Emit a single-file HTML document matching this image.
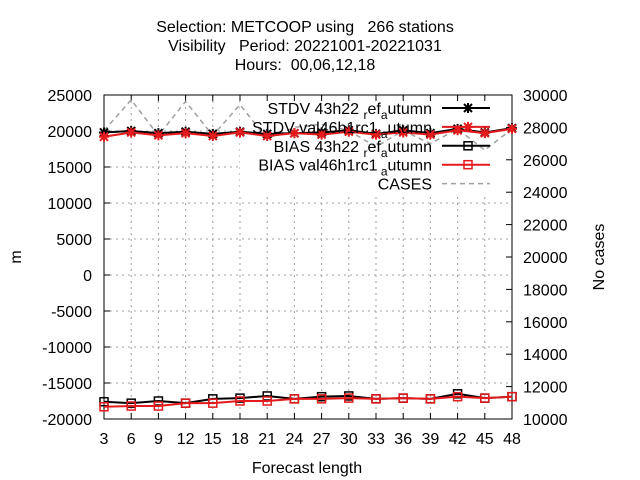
<!DOCTYPE html>
<html><head><meta charset="utf-8"><style>
body{margin:0;background:#fff}
svg{display:block;font-family:"Liberation Sans",sans-serif;font-size:16px}
text{white-space:pre}
</style></head><body>
<svg id="c" width="640" height="480" xmlns="http://www.w3.org/2000/svg">
<g id="title" text-anchor="middle">
<text x="305" y="32" xml:space="preserve">Selection: METCOOP using   266 stations</text>
<text x="305" y="51" xml:space="preserve">Visibility   Period: 20221001-20221031</text>
<text x="305" y="70" xml:space="preserve">Hours:  00,06,12,18</text>
</g>
</svg>
<script>
const leads=[3,6,9,12,15,18,21,24,27,30,33,36,39,42,45,48];
const stdvRef=[19800,20000,19700,19900,19600,19900,19600,19700,19800,20100,19600,20100,19700,20300,19800,20400];
const stdvVal=[19200,19800,19400,19700,19300,19800,19300,19700,19500,19900,19500,19800,19500,20100,19700,20300];
const biasRef=[-17600,-17800,-17500,-17800,-17200,-17100,-16800,-17200,-16900,-16800,-17200,-17100,-17200,-16500,-17100,-16900];
const biasVal=[-18300,-18200,-18200,-17800,-17800,-17500,-17500,-17200,-17200,-17100,-17200,-17100,-17200,-16900,-17100,-16900];
const cases=[27800,29700,27500,29600,27500,29400,27300,28000,28200,27800,26800,27800,27000,27900,26600,27900];
const yTicks=[25000,20000,15000,10000,5000,0,-5000,-10000,-15000,-20000];
const y2Ticks=[30000,28000,26000,24000,22000,20000,18000,16000,14000,12000,10000];

const L=104,R=512,T=95,B=419;
const X=v=>L+(v-3)/(48-3)*(R-L);
const Y=v=>T+(25000-v)/45000*(B-T);
const Y2=v=>T+(30000-v)/20000*(B-T);
const svg=document.getElementById('c');
const NS='http://www.w3.org/2000/svg';
function mk(tag,attrs,parent){const e=document.createElementNS(NS,tag);for(const k in attrs)e.setAttribute(k,attrs[k]);(parent||svg).appendChild(e);return e;}

const grid=mk('g',{});


leads.forEach(v=>{if(v>3&&v<48)mk('line',{x1:X(v),x2:X(v),y1:T,y2:B,stroke:'#a0a0a0','stroke-dasharray':'2,4'},grid);});
yTicks.forEach(v=>{if(v<25000&&v>-20000)mk('line',{x1:L,x2:R,y1:Y(v),y2:Y(v),stroke:'#a0a0a0','stroke-dasharray':'2,4'},grid);});

const lb=mk('rect',{x:240,y:97,width:272,height:97,fill:'#fff'});



const axes=mk('g',{});


mk('rect',{x:L,y:T,width:R-L,height:B-T,fill:'none',stroke:'#000'},axes);
yTicks.forEach(v=>{
  mk('line',{x1:L,x2:L+6,y1:Y(v),y2:Y(v),stroke:'#000'},axes);
  const t=mk('text',{x:L-12,y:Y(v)+6,'text-anchor':'end'},axes);t.textContent=v;
  
  
});
y2Ticks.forEach(v=>{
  mk('line',{x1:R-6,x2:R,y1:Y2(v),y2:Y2(v),stroke:'#000'},axes);
  const t=mk('text',{x:R+11,y:Y2(v)+6,'text-anchor':'start'},axes);t.textContent=v;
  
  
});
leads.forEach(v=>{
  mk('line',{x1:X(v),x2:X(v),y1:B,y2:B-6,stroke:'#000'},axes);
  mk('line',{x1:X(v),x2:X(v),y1:T,y2:T+6,stroke:'#000'},axes);
  const t=mk('text',{x:X(v),y:B+25,'text-anchor':'middle'},axes);t.textContent=v;
  
  
});
let t=mk('text',{x:307,y:473,'text-anchor':'middle'});t.textContent='Forecast length';


t=mk('text',{x:0,y:0,'text-anchor':'middle',transform:'translate(21,257) rotate(-90)'});t.textContent='m';


t=mk('text',{x:0,y:0,'text-anchor':'middle',transform:'translate(604,257) rotate(-90)'});t.textContent='No cases';



function pts(arr,f){return arr.map((v,i)=>X(leads[i])+','+f(v)).join(' ');}
function star(g,x,y,c){mk('path',{d:`M${x-4},${y-4}L${x+4},${y+4}M${x-4},${y+4}L${x+4},${y-4}M${x-5},${y}L${x+5},${y}M${x},${y-5}L${x},${y+5}`,stroke:c,'stroke-width':2},g);}
function box(g,x,y,c){mk('rect',{x:x-4,y:y-4,width:8,height:8,fill:'none',stroke:c,'stroke-width':1.5},g);}

const gc=mk('g',{});


mk('polyline',{points:pts(cases,Y2),fill:'none',stroke:'#a0a0a0','stroke-width':1.5,'stroke-dasharray':'5,4'},gc);

const series=[
 {d:stdvRef,c:'#000',m:star,n:'series-stdv-ref'},
 {d:stdvVal,c:'#e41a1c',m:star,n:'series-stdv-val'},
 {d:biasRef,c:'#000',m:box,n:'series-bias-ref'},
 {d:biasVal,c:'#e41a1c',m:box,n:'series-bias-val'}];
series.forEach(s=>{
  const g=mk('g',{});
  
  
  mk('polyline',{points:pts(s.d,Y),fill:'none',stroke:s.c,'stroke-width':2},g);
  s.d.forEach((v,i)=>s.m(g,X(leads[i]),Y(v),s.c));
});

const lg=mk('g',{});


const rows=[
 ['STDV 43h22 ',['r','ef'],['a','utumn'],'#000',star,false],
 ['STDV val46h1rc1',null,['a','utumn'],'#e41a1c',star,false],
 ['BIAS 43h22 ',['r','ef'],['a','utumn'],'#000',box,false],
 ['BIAS val46h1rc1',null,['a','utumn'],'#e41a1c',box,false],
 ['CASES',null,null,'#a0a0a0',null,true]];
rows.forEach((r,i)=>{
  const y=108+i*18.9;
  const e=mk('g',{},lg);
  
  
  const tx=mk('text',{x:432,y:y+6,'text-anchor':'end'},e);
  const a=document.createElementNS(NS,'tspan');a.textContent=r[0];tx.appendChild(a);
  [r[1],r[2]].forEach(p=>{if(!p)return;
    const sub=document.createElementNS(NS,'tspan');sub.setAttribute('dy','5');sub.setAttribute('font-size','12');sub.textContent=(p===r[2]&&r[0].startsWith('STDV val')||p===r[2]&&r[0].startsWith('BIAS val')?' ':'')+p[0];tx.appendChild(sub);
    const rest=document.createElementNS(NS,'tspan');rest.setAttribute('dy','-5');rest.textContent=p[1];tx.appendChild(rest);});
  if(r[5]) mk('line',{x1:442,x2:490,y1:y,y2:y,stroke:r[3],'stroke-width':1.5,'stroke-dasharray':'5,4'},e);
  else {mk('line',{x1:442,x2:490,y1:y,y2:y,stroke:r[3],'stroke-width':2},e);r[4](e,468,y,r[3]);}
});
</script>
</body></html>
